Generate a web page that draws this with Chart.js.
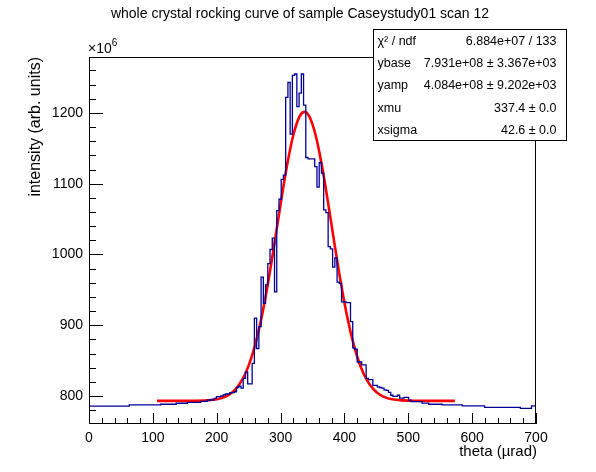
<!DOCTYPE html>
<html>
<head>
<meta charset="utf-8">
<script src="https://cdn.jsdelivr.net/npm/chart.js@4.4.0/dist/chart.umd.min.js"></script>
<style>
  html, body { margin: 0; padding: 0; background: #fff; }
  #chart { display: block; }
</style>
</head>
<body>
<canvas id="chart" width="596" height="472"></canvas>
<script>
// ---------------- data (units of 1e6) ----------------
const xMin = 0;
const xMax = 700;
const binWidth = 3.5;
const counts = [
  785.8, 785.8, 785.8, 785.8, 785.8, 785.8, 785.8, 785.8, 785.8, 785.8,
  785.8, 785.8, 785.8, 785.8, 785.8, 785.8, 785.8, 785.8, 785.8, 787.5,
  787.5, 787.5, 787.5, 787.5, 787.5, 787.5, 787.5, 787.5, 787.5, 787.5,
  787.5, 787.5, 787.5, 788.3, 788.3, 788.3, 788.3, 788.3, 788.3, 788.3,
  789.7, 789.7, 789.7, 789.7, 789.7, 791, 791, 791, 791, 791,
  791, 792.5, 792.5, 792.5, 794.3, 794.3, 794.3, 796.7, 799, 799,
  800, 801.4, 802.8, 802.8, 804.7, 804.7, 806, 812, 814, 811,
  825, 834, 817, 817, 846, 910, 867, 898, 968, 931,
  957, 987, 1007, 1023, 947, 1062, 1078, 1106, 1112, 1222,
  1243, 1170, 1253, 1255, 1209, 1228, 1255, 1211, 1137, 1135,
  1135, 1135, 1124, 1095, 1130, 1115, 1063, 1059, 1011, 1008,
  982, 995, 961, 959, 933, 933, 932, 932, 905, 868,
  866, 848, 848, 844, 844, 825, 823, 823, 815, 815,
  813, 812, 811, 808.5, 808, 805, 801, 799.5, 799.5, 801,
  797, 797, 798, 798, 794, 792, 792, 792, 792, 792,
  790, 790, 790, 788.3, 788.3, 788.3, 788.3, 788.3, 788.3, 787.3,
  787.3, 787.3, 787.3, 787.3, 787.3, 787.3, 787.3, 787.3, 786, 786,
  786, 786, 786, 786, 786, 786, 786, 786, 784, 784,
  784, 784, 784, 784, 784, 784, 784, 784, 784, 784,
  784, 784, 784, 784, 782.6, 782.6, 782.6, 782.6, 782.6, 786
];

// fitted curve
const fitX = [106.5, 150, 180, 200, 210, 220, 230, 240, 250, 260, 270, 280, 290, 300, 310, 320, 330, 337.4,
              345, 355, 365, 375, 385, 395, 405, 415, 425, 435, 445, 455, 465, 475, 490, 510, 540, 573];
const fitY = [793.1, 793.1, 793.5, 795.4, 797.8, 802.3, 810.1, 823.0, 842.9, 871.5, 909.9, 957.9, 1013.0, 1070.9, 1125.2, 1168.8, 1195.4, 1201.5,
              1195.0, 1168.1, 1124.2, 1069.7, 1011.8, 956.8, 909.0, 870.8, 842.4, 822.7, 809.9, 802.1, 797.7, 795.3, 793.8, 793.2, 793.1, 793.1];

const xTicks = [0, 100, 200, 300, 400, 500, 600, 700];
const yTicks = [800, 900, 1000, 1100, 1200];
const yMin = 760.4;
const yMax = 1279;

const statNames = ['χ² / ndf', 'ybase', 'yamp', 'xmu', 'xsigma'];
const statValues = ['6.884e+07 / 133', '7.931e+08 ± 3.367e+03', '4.084e+08 ± 9.202e+03', '337.4 ± 0.0', '42.6 ± 0.0'];

const titleText = 'whole crystal rocking curve of sample Caseystudy01 scan 12';
const xTitle = 'theta (µrad)';
const yTitle = 'intensity (arb. units)';

// ---------------- build datasets ----------------
const histPoints = counts.map((c, i) => ({ x: xMin + i * binWidth, y: c }));
histPoints.push({ x: xMax, y: counts[counts.length - 1] });
const fitPoints = fitX.map((x, i) => ({ x: x, y: fitY[i] }));

const FONT = '"Liberation Sans", Arial, Helvetica, sans-serif';

// ROOT-like frame, inward ticks, titles and stat box
const rootFrame = {
  id: 'rootFrame',
  afterDraw(chart) {
    const { ctx, chartArea: a, scales: { x, y } } = chart;
    ctx.save();
    ctx.strokeStyle = '#000';
    ctx.lineWidth = 1;

    ctx.beginPath();
    for (let v = xMin; v <= xMax; v += 20) {
      const px = Math.round(x.getPixelForValue(v)) + 0.5;
      const len = v % 100 === 0 ? 11 : 6;
      ctx.moveTo(px, a.bottom);
      ctx.lineTo(px, a.bottom - len);
    }
    for (let v = 780; v <= yMax; v += 20) {
      const py = Math.round(y.getPixelForValue(v)) + 0.5;
      const len = v % 100 === 0 ? 14 : 7;
      ctx.moveTo(a.left, py);
      ctx.lineTo(a.left + len, py);
    }
    ctx.stroke();
    ctx.strokeRect(a.left + 0.5, a.top + 0.5, a.right - a.left - 1, a.bottom - a.top - 1);

    ctx.fillStyle = '#000';
    // title
    ctx.font = '14px ' + FONT;
    ctx.textAlign = 'center';
    ctx.textBaseline = 'middle';
    ctx.fillText(titleText, 300, 14);

    // x10^6
    ctx.textAlign = 'left';
    ctx.textBaseline = 'alphabetic';
    ctx.font = '14px ' + FONT;
    ctx.fillText('×10', 88, 53);
    const w = ctx.measureText('×10').width;
    ctx.font = '10px ' + FONT;
    ctx.fillText('6', 88 + w, 46);

    // axis titles
    ctx.font = '15px ' + FONT;
    ctx.textAlign = 'right';
    ctx.textBaseline = 'middle';
    ctx.fillText(xTitle, 537, 452);
    ctx.save();
    ctx.font = '16px ' + FONT;
    ctx.translate(36, 57);
    ctx.rotate(-Math.PI / 2);
    ctx.fillText(yTitle, 0, 0);
    ctx.restore();

    // stat box
    const bx = 373.5, by = 29.5, bw = 193, bh = 111;
    ctx.fillStyle = '#fff';
    ctx.fillRect(bx, by, bw, bh);
    ctx.strokeRect(bx, by, bw, bh);
    ctx.fillStyle = '#000';
    ctx.font = '12.5px ' + FONT;
    const rowH = bh / statNames.length;
    statNames.forEach((name, i) => {
      const ty = by + rowH * (i + 0.5) + 1;
      ctx.textAlign = 'left';
      ctx.fillText(name, bx + 4, ty);
      ctx.textAlign = 'right';
      ctx.fillText(statValues[i], bx + bw - 10, ty);
    });
    ctx.restore();
  }
};

new Chart(document.getElementById('chart'), {
  type: 'line',
  data: {
    datasets: [
      {
        label: 'hist',
        data: histPoints,
        stepped: 'after',
        borderColor: '#000099',
        borderWidth: 1.3,
        pointRadius: 0,
        fill: false
      },
      {
        label: 'fit',
        data: fitPoints,
        borderColor: '#ff0000',
        borderWidth: 2.6,
        pointRadius: 0,
        cubicInterpolationMode: 'monotone',
        fill: false
      }
    ]
  },
  options: {
    responsive: false,
    animation: false,
    devicePixelRatio: 1,
    layout: { padding: { left: 0, top: 57, right: 60, bottom: 0 } },
    plugins: {
      legend: { display: false },
      title: { display: false },
      tooltip: { enabled: false }
    },
    scales: {
      x: {
        type: 'linear',
        min: xMin,
        max: xMax,
        afterBuildTicks: s => { s.ticks = xTicks.map(v => ({ value: v })); },
        afterFit: s => { s.height = 48; s.paddingLeft = 0; s.paddingRight = 0; },
        grid: { display: false, drawTicks: false },
        border: { display: false },
        ticks: {
          color: '#000',
          font: { family: FONT, size: 14 },
          padding: 6,
          maxRotation: 0,
          autoSkip: false,
          callback: v => String(v)
        }
      },
      y: {
        type: 'linear',
        min: yMin,
        max: yMax,
        afterBuildTicks: s => { s.ticks = yTicks.map(v => ({ value: v })); },
        afterFit: s => { s.width = 89; s.paddingTop = 0; s.paddingBottom = 0; },
        grid: { display: false, drawTicks: false },
        border: { display: false },
        ticks: {
          color: '#000',
          font: { family: FONT, size: 14 },
          padding: 6,
          autoSkip: false,
          callback: v => String(v)
        }
      }
    }
  },
  plugins: [rootFrame]
});
</script>
</body>
</html>
